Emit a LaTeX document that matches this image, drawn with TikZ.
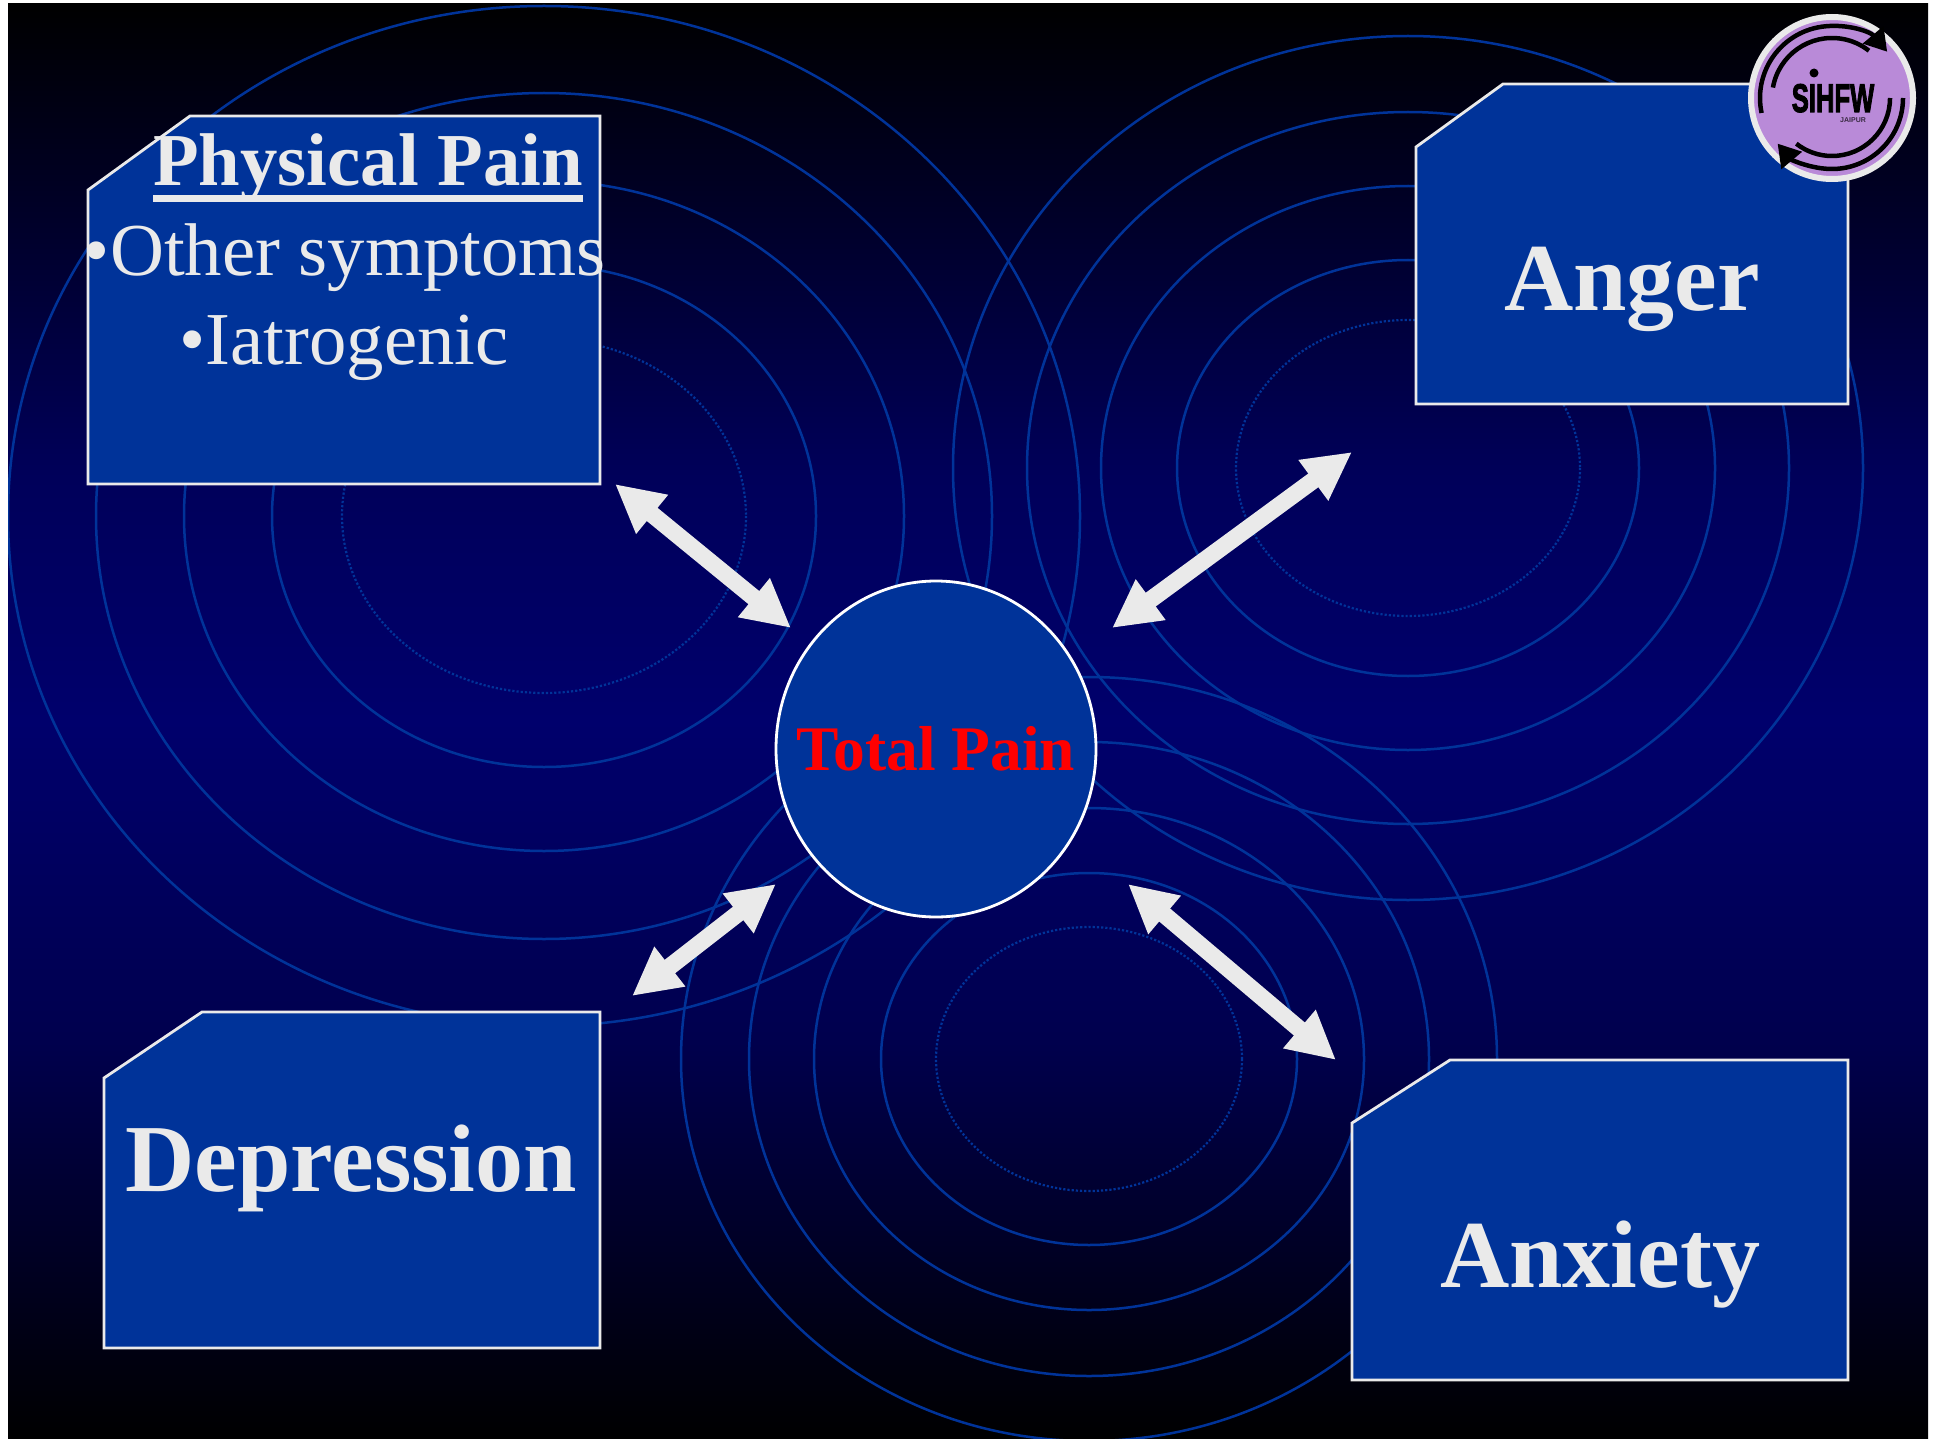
\documentclass[tikz,border=0pt]{standalone}
\usepackage{graphicx}
\usepackage{fontspec}
\setmainfont{Liberation Serif}
\setsansfont{Liberation Sans}
\newfontfamily\logofont[FakeBold=3]{Liberation Sans Bold}
\usetikzlibrary{arrows.meta,shapes.geometric}
\definecolor{noite}{HTML}{00006C}
\definecolor{noitea}{HTML}{00005A}
\definecolor{noiteb}{HTML}{00004E}
\definecolor{anel}{HTML}{003399}
\definecolor{caixa}{HTML}{003399}
\definecolor{claro}{HTML}{EAEAEA}
\definecolor{lilas}{HTML}{B98AD8}
\pgfdeclareverticalshading{fundo}{100bp}{color(0bp)=(black); color(25bp)=(black); color(39bp)=(noiteb);
  color(50bp)=(noite); color(58.5bp)=(noitea); color(75bp)=(black); color(100bp)=(black)}
\newcommand{\sublinha}[1]{\setbox0\hbox{#1}\rlap{\rule[-16pt]{\wd0}{7pt}}\box0}
\begin{document}
\begin{tikzpicture}[
  x=1pt,y=-1pt,
  ring/.style={draw=anel,line width=2.5pt},
  ringdot/.style={draw=anel,line width=2.2pt,dotted},
  cut/.style={draw=claro,line width=2.8pt,fill=caixa},
  big/.style={text=claro,font=\bfseries\fontsize{96}{96}\selectfont,anchor=base,inner sep=0pt},
  small/.style={text=claro,font=\fontsize{74.7}{74.7}\selectfont,anchor=base,inner sep=0pt},
  arr/.style={{Triangle[length=48pt,width=47pt]}-{Triangle[length=48pt,width=47pt]},
              line width=17pt,draw=claro,color=claro},
  logoarc/.style={draw=black,line width=4.5pt}
]
  \useasboundingbox (0,0) rectangle (1940,1439);
  \fill[white] (0,0) rectangle (1940,1439);
  \shade[shading=fundo] (8,4) rectangle (1928,1439);
  \begin{scope}
    \clip (8,4) rectangle (1928,1439);
    % upper left rings
    \foreach \rx/\ry in {536/510,448/423,360/335,272/251} \draw[ring] (544,516) ellipse [x radius=\rx,y radius=\ry];
    \draw[ringdot] (544,516) ellipse [x radius=202,y radius=177];
    % upper right rings
    \foreach \rx/\ry in {455/432,381/356,307/282,231/208} \draw[ring] (1408,468) ellipse [x radius=\rx,y radius=\ry];
    \draw[ringdot] (1408,468) ellipse [x radius=172,y radius=148];
    % lower rings
    \foreach \rx/\ry in {408/382,340/317,275/251,208/186} \draw[ring] (1089,1059) ellipse [x radius=\rx,y radius=\ry];
    \draw[ringdot] (1089,1059) ellipse [x radius=153,y radius=132];
  \end{scope}

  % boxes with the cut corner
  \draw[cut] (88,190) -- (190,116) -- (600,116) -- (600,484) -- (88,484) -- cycle;
  \draw[cut] (1416,147) -- (1503,84) -- (1848,84) -- (1848,404) -- (1416,404) -- cycle;
  \draw[cut] (104,1078) -- (202,1012) -- (600,1012) -- (600,1348) -- (104,1348) -- cycle;
  \draw[cut] (1352,1123) -- (1450,1060) -- (1848,1060) -- (1848,1380) -- (1352,1380) -- cycle;
  \node[ellipse,draw=white,line width=2.8pt,fill=caixa,minimum width=320pt,minimum height=336pt,inner sep=0pt,
        text=red,font=\bfseries\fontsize{63.5}{63.5}\selectfont] (total) at (936,749) {\makebox[0pt]{Total Pain}};

  \node[small,font=\bfseries\fontsize{74.7}{74.7}\selectfont] (title) at (368,186) {\sublinha{Physical Pain}};
  \node[small] (other) at (345,276) {•Other symptoms};
  \node[small] (iatro) at (344,364) {•Iatrogenic};
  \node[big] (angertxt) at (1632,310) {Anger};
  \node[big] (depretxt) at (351,1191) {Depression};
  \node[big] (anxitxt) at (1600,1287) {Anxiety};

  \coordinate (a1) at (615,484);
  \coordinate (a2) at (791,628);
  \coordinate (b1) at (1352,452);
  \coordinate (b2) at (1112,628);
  \coordinate (c1) at (776,884);
  \coordinate (c2) at (632,996);
  \coordinate (d1) at (1128,884);
  \coordinate (d2) at (1336,1060);
  \draw[arr] (a1) -- (a2);
  \draw[arr] (b1) -- (b2);
  \draw[arr] (c1) -- (c2);
  \draw[arr] (d1) -- (d2);

  % logo
  \node[circle,draw=claro,line width=6pt,fill=lilas,minimum size=162pt,inner sep=0pt] (logo) at (1832,98) {};
  \draw[logoarc,-{Triangle[length=22pt,width=26pt]}] (logo.center) ++(192:72pt) arc[start angle=192,end angle=40,radius=72pt];
  \draw[logoarc] (logo.center) ++(170:60pt) arc[start angle=170,end angle=52,radius=60pt];
  \draw[logoarc,-{Triangle[length=22pt,width=26pt]}] (logo.center) ++(0:71pt) arc[start angle=0,end angle=-140,radius=71pt];
  \draw[logoarc] (logo.center) ++(0:58pt) arc[start angle=0,end angle=-128,radius=58pt];
  \node[font=\logofont\fontsize{40}{40}\selectfont,inner sep=0pt,anchor=base] (sihfw) at (1833,112) {\scalebox{.64}[1]{SIHFW}};
  \node[fill=black,circle,inner sep=0pt,minimum size=9pt] (sihfwdot) at (1814,73) {};
  \node[font=\sffamily\bfseries\fontsize{7}{7}\selectfont,inner sep=0pt,text=black!70!lilas] (jaipur) at (1853,120) {JAIPUR};
\end{tikzpicture}
\end{document}
